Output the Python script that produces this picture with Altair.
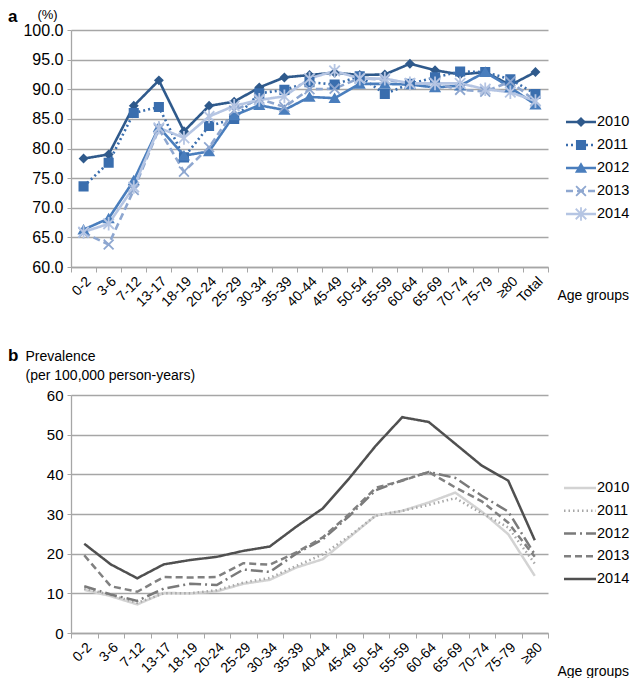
import altair as alt
import pandas as pd

FONT = "Liberation Sans"

years = ["2010", "2011", "2012", "2013", "2014"]
ages_a = ["0-2", "3-6", "7-12", "13-17", "18-19", "20-24", "25-29", "30-34", "35-39",
          "40-44", "45-49", "50-54", "55-59", "60-64", "65-69", "70-74", "75-79", "≥80", "Total"]
ages_b = ages_a[:-1]

# Panel a: percentages
a2010 = [78.3, 79.0, 87.2, 91.5, 82.9, 87.2, 87.9, 90.3, 92.0, 92.4, 92.8, 92.4, 92.5, 94.3, 93.2, 92.5, 92.9, 90.7, 92.9]
a2011 = [73.6, 77.6, 86.0, 87.0, 78.5, 83.8, 85.0, 89.3, 89.9, 91.2, 90.8, 92.2, 89.2, 90.9, 92.0, 93.0, 92.9, 91.7, 89.2]
a2012 = [66.3, 68.2, 74.6, 83.6, 78.8, 79.5, 85.6, 87.3, 86.5, 88.7, 88.5, 90.9, 90.9, 90.8, 90.3, 90.6, 92.9, 90.3, 87.4]
a2013 = [65.8, 63.8, 73.0, 83.3, 76.1, 80.2, 86.4, 88.4, 87.0, 90.0, 90.1, 91.9, 91.6, 91.0, 91.0, 89.9, 89.6, 91.3, 88.0]
a2014 = [65.9, 67.3, 73.5, 83.5, 81.8, 85.4, 87.2, 88.2, 88.8, 91.8, 93.1, 91.8, 91.8, 91.0, 91.0, 91.0, 90.0, 89.5, 88.0]

# Panel b: prevalence per 100,000 person-years
b2010 = [10.9, 9.3, 7.2, 10.1, 10.0, 10.5, 12.4, 13.4, 16.5, 18.6, 24.1, 29.6, 30.8, 32.9, 35.4, 30.6, 24.9, 14.4]
b2011 = [11.2, 9.6, 7.6, 10.0, 10.0, 10.8, 12.7, 13.9, 16.9, 19.8, 24.4, 29.6, 30.8, 32.3, 34.0, 30.2, 26.6, 17.5]
b2012 = [11.8, 9.7, 8.1, 11.2, 12.4, 12.1, 16.0, 15.4, 20.0, 23.6, 29.5, 36.0, 38.5, 40.6, 39.1, 34.6, 30.6, 19.8]
b2013 = [19.6, 11.8, 10.4, 14.1, 14.0, 14.1, 17.6, 17.2, 20.3, 24.1, 30.0, 36.6, 38.4, 40.6, 36.7, 33.2, 27.8, 19.2]
b2014 = [22.5, 17.3, 13.8, 17.3, 18.4, 19.2, 20.7, 21.8, 26.8, 31.4, 39.0, 47.2, 54.4, 53.2, 47.7, 42.2, 38.4, 23.4]

y_ticks_a = [60, 65, 70, 75, 80, 85, 90, 95, 100]
y_ticks_b = [0, 10, 20, 30, 40, 50, 60]
panel_labels = ["a", "b"]


def long_df(ages, series):
    rows = []
    for yr, vals in zip(years, series):
        for age, v in zip(ages, vals):
            rows.append({"age": age, "year": yr, "value": v})
    return pd.DataFrame(rows)


df_a = long_df(ages_a, [a2010, a2011, a2012, a2013, a2014])
df_b = long_df(ages_b, [b2010, b2011, b2012, b2013, b2014])
leg = pd.DataFrame({"year": years})

colors_a = ["#2f5a8c", "#3a6eae", "#4a7ebd", "#8ea7d0", "#b5c5e3"]
dash_a = [[1, 0], [2, 3], [1, 0], [7, 4], [1, 0]]
shapes_a = ["diamond", "square", "triangle-up",
            "M-1,-1L1,1M-1,1L1,-1",
            "M-1,-1L1,1M-1,1L1,-1M0,-1.3L0,1.3"]
sizes_a = [55, 110, 75, 70, 110]

colors_b = ["#d3d3d3", "#a8a8a8", "#7a7a7a", "#808080", "#505050"]
dash_b = [[1, 0], [1.5, 3], [12, 4, 2, 4], [7, 4], [1, 0]]

GRID = "#a6a6a6"
W = 477
HA, HB = 237, 238


def x_axis(title_y):
    return alt.Axis(title="Age groups", labelAngle=-45, labelAlign="right", labelBaseline="top",
                    labelFontSize=14, tickBand="extent", tickSize=5, tickColor=GRID,
                    domainColor=GRID, domainWidth=1.3, grid=False, labelPadding=2,
                    titleX=W + 9, titleY=title_y, titleAlign="left", titleBaseline="middle",
                    titleFontSize=14, titleFontWeight="normal")


# ---------- Panel a ----------
ya_axis = alt.Axis(values=y_ticks_a, format=".1f", labelFontSize=16, gridColor=GRID,
                   gridWidth=1.3, domainColor=GRID, domainWidth=1.3, tickColor=GRID,
                   tickSize=4, labelPadding=4, tickCount=9,
                   title="(%)", titleAngle=0, titleX=-24, titleY=-16, titleAlign="center",
                   titleBaseline="middle", titleFontSize=13, titleFontWeight="normal")
xa = alt.X("age:N", sort=ages_a, bandPosition=0.5,
           scale=alt.Scale(type="band", domain=ages_a, paddingInner=0, paddingOuter=0), axis=x_axis(28))
ya = alt.Y("value:Q", scale=alt.Scale(domain=[60, 100], nice=False, zero=False), axis=ya_axis)

col_a = alt.Color("year:N", scale=alt.Scale(domain=years, range=colors_a), legend=None)
stk_a = alt.Stroke("year:N", scale=alt.Scale(domain=years, range=colors_a), legend=None)
dsh_a = alt.StrokeDash("year:N", scale=alt.Scale(domain=years, range=dash_a), legend=None)
shp_a = alt.Shape("year:N", scale=alt.Scale(domain=years, range=shapes_a), legend=None)
siz_a = alt.Size("year:O", scale=alt.Scale(domain=years, range=sizes_a), legend=None)

lines_a = alt.Chart(df_a).mark_line(strokeWidth=2.6).encode(x=xa, y=ya, color=col_a, strokeDash=dsh_a)
pts_a = alt.Chart(df_a).mark_point(filled=True, opacity=1, strokeWidth=1.8).encode(
    x=xa, y=ya, color=col_a, stroke=stk_a, shape=shp_a, size=siz_a)
main_a = alt.layer(lines_a, pts_a)

ly_a = alt.Y("year:N", scale=alt.Scale(type="point", domain=years, range=[92, 184], padding=0), axis=None)
leg_rule_a = alt.Chart(leg).mark_rule(strokeWidth=2.6).encode(
    x=alt.value(W + 18), x2=alt.value(W + 48), y=ly_a, color=col_a, strokeDash=dsh_a)
leg_pt_a = alt.Chart(leg).mark_point(filled=True, opacity=1, strokeWidth=1.8).encode(
    x=alt.value(W + 33), y=ly_a, color=col_a, stroke=stk_a, shape=shp_a, size=siz_a)
leg_txt_a = alt.Chart(leg).mark_text(align="left", baseline="middle", fontSize=14.5, font=FONT,
                                     color="#000000").encode(
    x=alt.value(W + 49), y=ly_a, text="year:N")
tag_a = alt.Chart(pd.DataFrame({"label": panel_labels[:1]})).mark_text(
    align="left", baseline="alphabetic", fontSize=17, fontWeight="bold", font=FONT, color="#000000"
).encode(x=alt.value(-63), y=alt.value(-8), text="label:N")

chart_a = alt.layer(main_a, leg_rule_a, leg_pt_a, leg_txt_a, tag_a).resolve_scale(y="independent").properties(
    width=W, height=HA)

# ---------- Panel b ----------
xb = alt.X("age:N", sort=ages_b, bandPosition=0.5,
           scale=alt.Scale(type="band", domain=ages_b, paddingInner=0, paddingOuter=0), axis=x_axis(38))
yb = alt.Y("value:Q", scale=alt.Scale(domain=[0, 60], nice=False),
           axis=alt.Axis(values=y_ticks_b, format="d", labelFontSize=15, gridColor=GRID,
                         gridWidth=1.3, domainColor=GRID, domainWidth=1.3, tickColor=GRID,
                         tickSize=4, labelPadding=4,
                         title=["Prevalence", "(per 100,000 person-years)"], titleAngle=0,
                         titleX=-46, titleY=-46, titleAlign="left", titleBaseline="top",
                         titleLineHeight=19, titleFontSize=14, titleFontWeight="normal"))

col_b = alt.Color("year:N", scale=alt.Scale(domain=years, range=colors_b), legend=None)
dsh_b = alt.StrokeDash("year:N", scale=alt.Scale(domain=years, range=dash_b), legend=None)

lines_b = alt.Chart(df_b).mark_line(strokeWidth=2.5).encode(x=xb, y=yb, color=col_b, strokeDash=dsh_b)

ly_b = alt.Y("year:N", scale=alt.Scale(type="point", domain=years, range=[93, 184], padding=0), axis=None)
leg_rule_b = alt.Chart(leg).mark_rule(strokeWidth=2.5).encode(
    x=alt.value(W + 16), x2=alt.value(W + 48), y=ly_b, color=col_b, strokeDash=dsh_b)
leg_txt_b = alt.Chart(leg).mark_text(align="left", baseline="middle", fontSize=14.5, font=FONT,
                                     color="#000000").encode(
    x=alt.value(W + 49), y=ly_b, text="year:N")
tag_b = alt.Chart(pd.DataFrame({"label": panel_labels[1:]})).mark_text(
    align="left", baseline="alphabetic", fontSize=17, fontWeight="bold", font=FONT, color="#000000"
).encode(x=alt.value(-63), y=alt.value(-34), text="label:N")

chart_b = alt.layer(lines_b, leg_rule_b, leg_txt_b, tag_b).resolve_scale(y="independent").properties(
    width=W, height=HB)

chart = alt.vconcat(chart_a, chart_b, spacing=37).resolve_scale(
    color="independent", strokeDash="independent"
).properties(
    padding={"left": 0, "top": 0, "right": 0, "bottom": 0}
).configure_view(stroke=None).configure_axis(
    labelFont=FONT, titleFont=FONT, labelColor="#000000", titleColor="#000000"
)

chart.save("out.html", embed_options={"renderer": "svg", "actions": False})
